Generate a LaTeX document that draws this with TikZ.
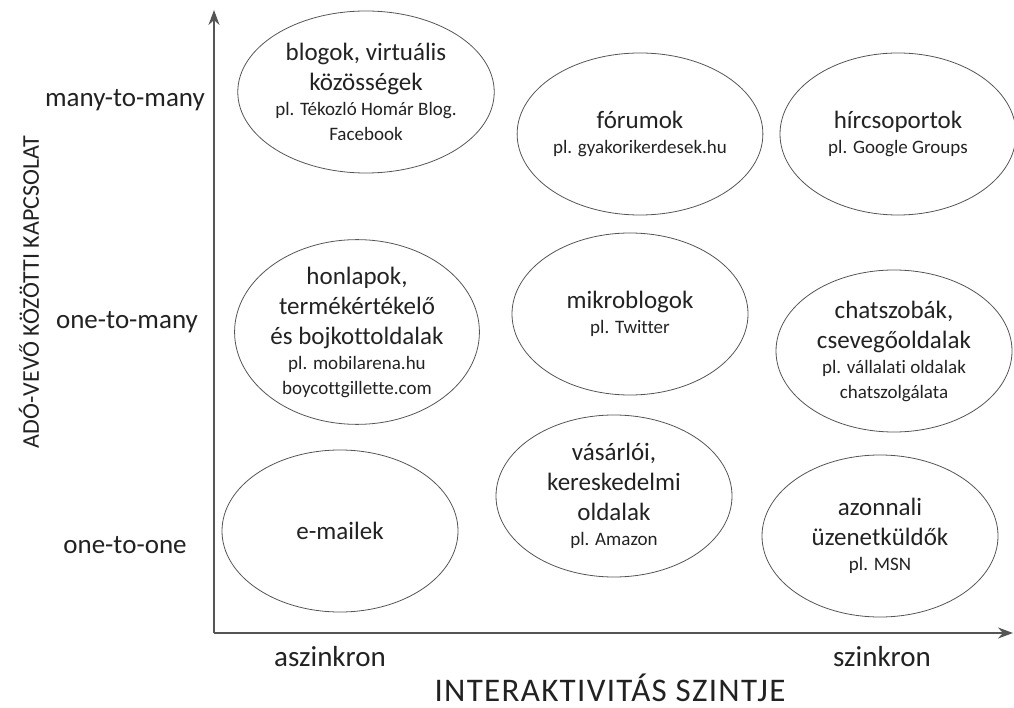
\documentclass[tikz,border=0pt]{standalone}
\usepackage{fontspec}
\setmainfont{Carlito}[Ligatures=NoCommon]
\usetikzlibrary{shapes.geometric,arrows.meta}
\definecolor{inkgray}{HTML}{222222}
\definecolor{rimgray}{HTML}{555555}
\newcommand{\pltext}{\fontsize{19}{24}\selectfont}
\begin{document}
\begin{tikzpicture}[x=1pt,y=-1pt,
    bubble/.style={ellipse,draw=rimgray,line width=0.8pt,minimum width=236pt,
      minimum height=162pt,inner sep=0pt,align=center,text=inkgray,
      font=\fontsize{25}{30}\selectfont},
    axislabel/.style={text=inkgray,font=\fontsize{27}{30}\selectfont},
    axislabel2/.style={text=inkgray,font=\fontsize{29}{30}\selectfont},
    axistitle/.style={text=inkgray,font=\fontsize{24}{30}\selectfont}]
    \useasboundingbox (0,0) rectangle (1014,708);

    % Draw the two axes
    \coordinate (origin) at (214,633);
    \coordinate (ytop) at (214,10);
    \coordinate (xend) at (1013,633);
    \draw[rimgray,line width=1.5pt,-{Stealth[length=15pt,width=11pt]}] (origin) -- (ytop);
    \draw[rimgray,line width=1.5pt,-{Stealth[length=15pt,width=11pt]}] (origin) -- (xend);

    % Labels of the vertical axis
    \node[axislabel] (manymany) at (125,100) {many-to-many};
    \node[axislabel] (onemany) at (127,322) {one-to-many};
    \node[axislabel] (oneone) at (125,545) {one-to-one};
    \node[axistitle,rotate=90] (ytitle) at (29,292) {ADÓ-VEVŐ KÖZÖTTI KAPCSOLAT};

    % Labels of the horizontal axis
    \node[axislabel2] (async) at (330,657) {aszinkron};
    \node[axislabel2] (sync) at (882,657) {szinkron};
    \node[text=inkgray,font=\fontsize{33}{36}\selectfont\addfontfeature{LetterSpace=4}]
      (xtitle) at (610,688) {INTERAKTIVITÁS SZINTJE};

    % Row: many-to-many
    \node[bubble] (blogs) at (366,92) {blogok, virtuális\\közösségek\\[-5pt]
      \pltext pl. Tékozló Homár Blog.\\[-5pt]\pltext Facebook};
    \node[bubble] (forums) at (640,134) {fórumok\\[-5pt]\pltext pl. gyakorikerdesek.hu};
    \node[bubble] (groups) at (898,134) {hírcsoportok\\[-5pt]\pltext pl. Google Groups};

    % Row: one-to-many
    \node[bubble] (homepages) at (357,332) {honlapok,\\termékértékelő\\és bojkottoldalak\\[-5pt]
      \pltext pl. mobilarena.hu\\[-5pt]\pltext boycottgillette.com};
    \node[bubble] (microblogs) at (630,314) {mikroblogok\\[-5pt]\pltext pl. Twitter};
    \node[bubble] (chatrooms) at (894,351) {chatszobák,\\csevegőoldalak\\[-5pt]
      \pltext pl. vállalati oldalak\\[-5pt]\pltext chatszolgálata};

    % Row: one-to-one
    \node[bubble] (emails) at (340,531) {e-mailek};
    \node[bubble] (shops) at (614,496) {vásárlói,\\kereskedelmi\\oldalak\\[-5pt]\pltext pl. Amazon};
    \node[bubble] (messengers) at (880,536) {azonnali\\üzenetküldők\\[-5pt]\pltext pl. MSN};
\end{tikzpicture}
\end{document}
